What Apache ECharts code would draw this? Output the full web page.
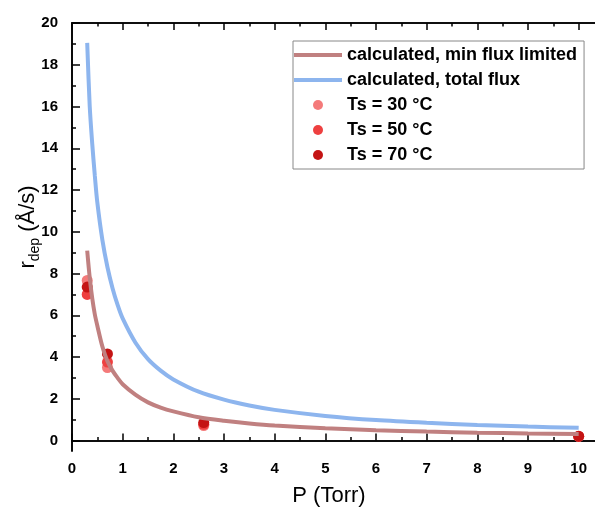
<!DOCTYPE html>
<html>
<head>
<meta charset="utf-8">
<script src="https://cdn.jsdelivr.net/npm/echarts@6/dist/echarts.min.js"></script>
<style>html,body{margin:0;padding:0;background:#fff}#c{width:595px;height:513px}</style>
</head>
<body>
<div id="c"></div>
<script>
// Calculated curves
const curveP     = [0.3, 0.35, 0.4, 0.45, 0.5, 0.6, 0.7, 0.8, 0.9, 1.0, 1.25, 1.5, 1.75, 2.0, 2.5, 3.0, 3.5, 4.0, 5.0, 6.0, 7.0, 8.0, 9.0, 10.0];
const minFlux    = [9.1, 7.8, 6.8, 6.05, 5.5, 4.5, 3.8, 3.35, 3.0, 2.7, 2.2, 1.83, 1.58, 1.4, 1.12, 0.95, 0.82, 0.72, 0.59, 0.49, 0.43, 0.38, 0.34, 0.31];
const totalFlux  = [19.05, 16.0, 14.2, 12.7, 11.4, 9.6, 8.3, 7.3, 6.5, 5.85, 4.7, 3.9, 3.35, 2.93, 2.34, 1.96, 1.68, 1.47, 1.18, 0.98, 0.85, 0.75, 0.67, 0.61];
// Measured points
const measP  = [0.3, 0.7, 2.6, 10];
const ts30   = [7.67, 3.5, 0.72, 0.2];
const ts50   = [7.0, 3.76, 0.78, 0.2];
const ts70   = [7.35, 4.15, 0.86, 0.21];
// Tick values
const xMajor = [0,1,2,3,4,5,6,7,8,9,10];
const xMinor = [0.5,1.5,2.5,3.5,4.5,5.5,6.5,7.5,8.5,9.5];
const yMajor = [0,2,4,6,8,10,12,14,16,18,20];
const yMinor = [1,3,5,7,9,11,13,15,17,19];

const zip = (a, b) => a.map((v, i) => [v, b[i]]);
const FONT = 'Liberation Sans, Arial, sans-serif';
const axisLine = {show: true, lineStyle: {color: '#000', width: 1.6}};
const LINE_ICON = 'path://M0,0 L48,0 L48,4 L0,4 Z';

function xAx(pos, vals, len, labels, extra) {
  return Object.assign({
    type: 'value', position: pos, min: 0, max: 10.5,
    axisLine: axisLine,
    axisTick: {show: true, inside: true, length: len, customValues: vals, lineStyle: {color: '#000', width: 1.5}},
    axisLabel: labels ? {show: true, customValues: vals, margin: 10, color: '#000', fontSize: 15, fontWeight: 'bold', fontFamily: FONT} : {show: false},
    splitLine: {show: false}
  }, extra || {});
}
function yAx(vals, len, labels, extra) {
  return Object.assign({
    type: 'value', position: 'left', min: -0.5, max: 20,
    axisLine: axisLine,
    axisTick: {show: true, inside: true, length: len, customValues: vals, lineStyle: {color: '#000', width: 1.5}},
    axisLabel: labels ? {show: true, customValues: vals, margin: 14, color: '#000', fontSize: 15, fontWeight: 'bold', fontFamily: FONT} : {show: false},
    splitLine: {show: false}
  }, extra || {});
}

const chart = echarts.init(document.getElementById('c'), null, {renderer: 'canvas'});
chart.setOption({
  backgroundColor: '#fff',
  animation: false,
  grid: {left: 72, top: 23, width: 532, height: 428, containLabel: false, outerBoundsMode: 'none'},
  xAxis: [
    xAx('bottom', xMajor, 7, true, {
      name: 'P (Torr)', nameLocation: 'middle', nameGap: 34, nameMoveOverlap: false,
      nameTextStyle: {fontSize: 22, color: '#000', fontFamily: FONT, padding: [0, 18, 0, 0]}
    }),
    xAx('bottom', xMinor, 3.5, false),
    xAx('top', xMajor, 7, false),
    xAx('top', xMinor, 3.5, false)
  ],
  yAxis: [
    yAx(yMajor, 8, true, {
      name: '{r|r}{s|dep}{r| (Å/s)}', nameLocation: 'middle', nameGap: 30, nameMoveOverlap: false,
      nameTextStyle: {
        color: '#000', fontFamily: FONT, padding: [0, 0, 0, 20],
        rich: {
          r: {fontSize: 22, lineHeight: 28, color: '#000', fontFamily: FONT},
          s: {fontSize: 14, lineHeight: 14, verticalAlign: 'bottom', color: '#000', fontFamily: FONT}
        }
      }
    }),
    yAx(yMinor, 4, false)
  ],
  legend: {
    left: 293, top: 41, orient: 'vertical',
    itemWidth: 48, itemHeight: 10, itemGap: 7,
    padding: [5, 7, 5, 1],
    borderColor: '#888', borderWidth: 1,
    textStyle: {fontSize: 18, fontWeight: 'bold', color: '#000', fontFamily: FONT},
    data: [
      {name: 'calculated, min flux limited', icon: LINE_ICON},
      {name: 'calculated, total flux', icon: LINE_ICON},
      {name: 'Ts = 30 °C', icon: 'circle'},
      {name: 'Ts = 50 °C', icon: 'circle'},
      {name: 'Ts = 70 °C', icon: 'circle'}
    ]
  },
  series: [
    {name: 'calculated, min flux limited', type: 'line', smooth: 0.3, symbol: 'none',
     data: zip(curveP, minFlux), lineStyle: {color: '#C08080', width: 4}, itemStyle: {color: '#C08080'}},
    {name: 'calculated, total flux', type: 'line', smooth: 0.3, symbol: 'none',
     data: zip(curveP, totalFlux), lineStyle: {color: '#8DB5EE', width: 4}, itemStyle: {color: '#8DB5EE'}},
    {name: 'Ts = 30 °C', type: 'scatter', symbolSize: 11, data: zip(measP, ts30), itemStyle: {color: '#F47A7A', opacity: 1}},
    {name: 'Ts = 50 °C', type: 'scatter', symbolSize: 11, data: zip(measP, ts50), itemStyle: {color: '#EE4040', opacity: 1}},
    {name: 'Ts = 70 °C', type: 'scatter', symbolSize: 11, data: zip(measP, ts70), itemStyle: {color: '#C41414', opacity: 1}}
  ]
});
</script>
</body>
</html>
